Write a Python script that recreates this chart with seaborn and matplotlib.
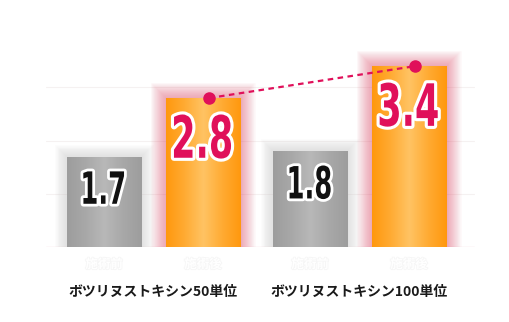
import numpy as np
import pandas as pd
import matplotlib
matplotlib.use("Agg")
import matplotlib.pyplot as plt
import matplotlib.patheffects as pe
from matplotlib.transforms import Affine2D
import seaborn as sns

# ---- data ----
groups = ["ボツリヌストキシン50単位", "ボツリヌストキシン100単位"]
phases = ["施術前", "施術後"]
before_vals = [1.7, 1.8]
after_vals = [2.8, 3.4]

gray = "#a6a6a6"
orange = "#ff9f1a"
magenta = "#e0105a"


def _squeeze(tpath, affine, sx):
    v = affine.transform(tpath.vertices)
    cx = (v[:, 0].min() + v[:, 0].max()) / 2
    return affine + Affine2D().translate(-cx, 0).scale(sx, 1).translate(cx, 0)


class SqueezeStroke(pe.Stroke):
    def __init__(self, sx=0.6, **kw):
        super().__init__(**kw)
        self.sx = sx

    def draw_path(self, renderer, gc, tpath, affine, rgbFace):
        super().draw_path(renderer, gc, tpath, _squeeze(tpath, affine, self.sx),
                          rgbFace)


class SqueezeNormal(pe.AbstractPathEffect):
    def __init__(self, sx=0.6):
        super().__init__()
        self.sx = sx

    def draw_path(self, renderer, gc, tpath, affine, rgbFace):
        renderer.draw_path(gc, tpath, _squeeze(tpath, affine, self.sx), rgbFace)


df = pd.DataFrame({
    "group": groups * 2,
    "phase": [phases[0]] * 2 + [phases[1]] * 2,
    "value": before_vals + after_vals,
})

sns.set_theme(style="white")
plt.rcParams["font.family"] = ["Noto Sans CJK JP", "DejaVu Sans"]

fig = plt.figure(figsize=(5.10, 3.22), dpi=100)
ax = fig.add_axes([0, 75 / 322, 1, 247 / 322])

sns.barplot(data=df, x="group", y="value", hue="phase", order=groups,
            hue_order=phases, palette=[gray, orange], width=0.96, gap=0.25,
            legend=False, ax=ax, saturation=1, zorder=3)

x0 = -153.5 / 206
x1 = (510 - 153.5) / 206
ymax = 247 / 53.2

bars = sorted(ax.patches, key=lambda p: p.get_x())
vals = [before_vals[0], after_vals[0], before_vals[1], after_vals[1]]

grad = np.abs(np.linspace(-1, 1, 256))
for i, p in enumerate(bars):
    is_after = (i % 2 == 1)
    p.set_edgecolor("none")
    if is_after:
        cmap = matplotlib.colors.LinearSegmentedColormap.from_list(
            "o", ["#ffc363", "#ffab33", "#ff980e"])
        effects = [pe.Stroke(linewidth=lw, foreground="#dc3c5c", alpha=0.035)
                   for lw in np.linspace(22, 1, 15)]
    else:
        cmap = matplotlib.colors.LinearSegmentedColormap.from_list(
            "g", ["#b8b8b8", "#a8a8a8", "#9d9d9d"])
        effects = [pe.Stroke(linewidth=lw, foreground="#9a9a9a", alpha=0.022)
                   for lw in np.linspace(18, 1, 12)]
    effects.append(pe.Normal())
    p.set_path_effects(effects)
    bx, bw, bh = p.get_x(), p.get_width(), p.get_height()
    im = ax.imshow(grad[None, :], cmap=cmap, aspect="auto",
                   extent=[bx, bx + bw, 0, bh], zorder=4)
    im.set_clip_path(p)

    cx = bx + bw / 2
    if is_after:
        ax.annotate(f"{vals[i]:.1f}", (cx, bh), xytext=(0, -43),
                    textcoords="offset points", ha="center", va="baseline",
                    fontsize=42, fontweight="bold", color=magenta,
                    family="DejaVu Sans", zorder=6,
                    path_effects=[SqueezeStroke(sx=0.6, linewidth=4.5,
                                                foreground="white"),
                                  SqueezeNormal(sx=0.6)])
    else:
        ax.annotate(f"{vals[i]:.1f}", (cx, bh), xytext=(0, -34),
                    textcoords="offset points", ha="center", va="baseline",
                    fontsize=32, fontweight="bold", color="#111111",
                    family="DejaVu Sans", zorder=6,
                    path_effects=[SqueezeStroke(sx=0.58, linewidth=4,
                                                foreground="white"),
                                  SqueezeNormal(sx=0.58)])
    ax.annotate(phases[i % 2], (cx, 0), xytext=(0, -8),
                textcoords="offset points", ha="center", va="top",
                fontsize=9, fontweight="bold", color="white",
                path_effects=[pe.Stroke(linewidth=1.2, foreground="#f6f6f6"),
                              pe.Normal()])

after_bars = [bars[1], bars[3]]
lx = [b.get_x() + b.get_width() / 2 + 0.03 for b in after_bars]
ly = [b.get_height() for b in after_bars]
ax.plot(lx, ly, linestyle=(0, (2.5, 2)), color=magenta, linewidth=1.6,
        zorder=7)
ax.plot(lx, ly, linestyle="none", marker="o", markersize=8, color=magenta,
        zorder=8)

for g in [1, 2, 3]:
    ax.axhline(g, xmin=0.09, xmax=0.93, color="#f5f1f1", linewidth=0.8,
               zorder=1)
ax.axhline(0, xmin=0.09, xmax=0.93, color="#f7dce2", linewidth=1.0, zorder=1)

ax.set_xlim(x0, x1)
ax.set_ylim(0, ymax)
ax.set_xticks([0, 1])
ax.set_xticklabels(groups, fontsize=10, fontweight="bold", color="#1a1a1a")
ax.tick_params(axis="x", length=0, pad=27)
ax.set_yticks([])
ax.set_xlabel("")
ax.set_ylabel("")
for s in ax.spines.values():
    s.set_visible(False)
ax.patch.set_alpha(0)

fig.savefig("out.png", dpi=100)
